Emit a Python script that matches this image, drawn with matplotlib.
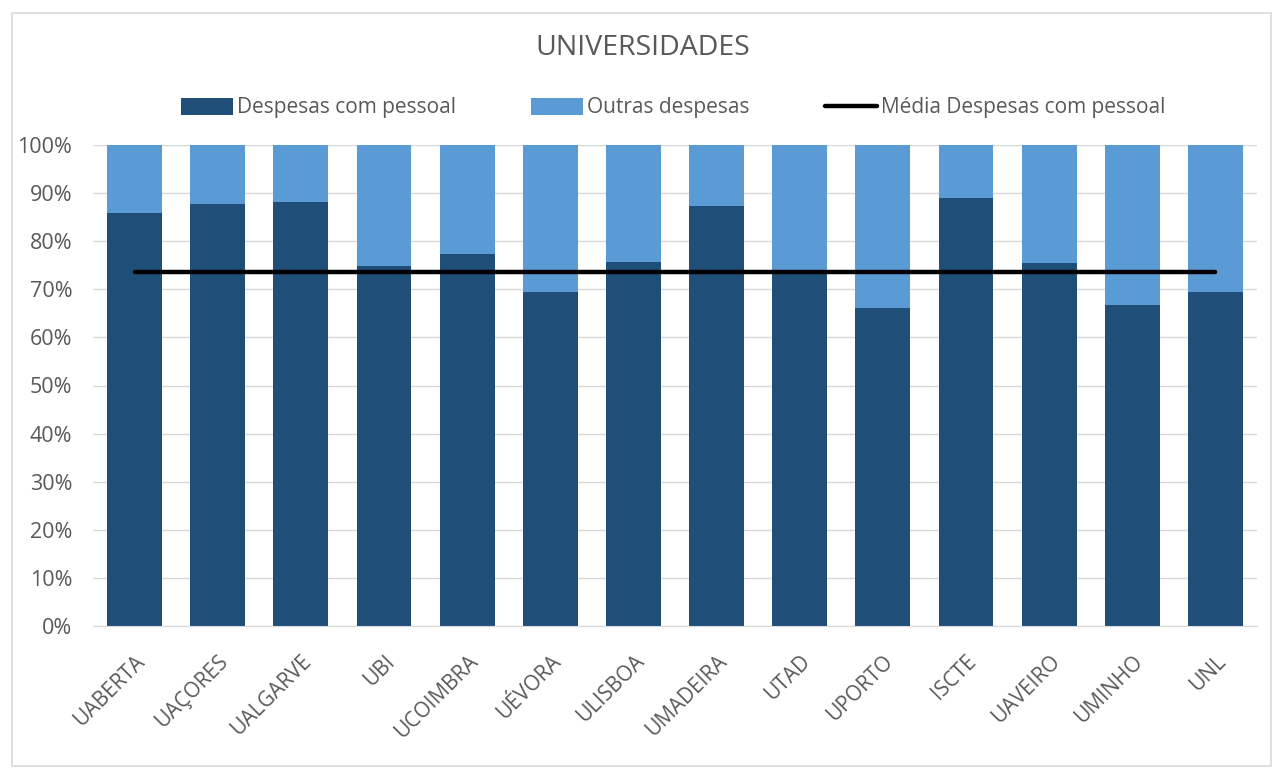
import matplotlib
matplotlib.use("Agg")
import matplotlib.pyplot as plt
from matplotlib.ticker import FuncFormatter, MultipleLocator
from matplotlib.patches import Rectangle
import numpy as np

categories = ["UABERTA", "UAÇORES", "UALGARVE", "UBI", "UCOIMBRA", "UÉVORA", "ULISBOA",
              "UMADEIRA", "UTAD", "UPORTO", "ISCTE", "UAVEIRO", "UMINHO", "UNL"]
despesas_pessoal = [85.9, 87.7, 88.2, 74.8, 77.3, 69.4, 75.7, 87.3, 74.0, 66.1, 88.9, 75.4, 66.7, 69.4]
outras_despesas = [100 - v for v in despesas_pessoal]
media_pessoal = [73.5] * len(categories)

plt.rcParams['font.family'] = ['Open Sans', 'DejaVu Sans']

DARK = "#1F4E79"
LIGHT = "#5B9BD5"
TXT = "#595959"

fig = plt.figure(figsize=(12.72, 7.68), dpi=100)
fig.patches.append(Rectangle((12/1272, 0.002), 1 - 12/1272 - 0.001, 1 - 15/768, transform=fig.transFigure,
                             fill=False, edgecolor="#D9D9D9", linewidth=1.2))
ax = fig.add_axes([93/1272, 1 - 626/768, (1257 - 93)/1272, (626 - 145)/768])

x = np.arange(len(categories))
h1 = ax.bar(x, despesas_pessoal, width=0.66, color=DARK, label="Despesas com pessoal", zorder=2)
h2 = ax.bar(x, outras_despesas, width=0.66, bottom=despesas_pessoal, color=LIGHT, label="Outras despesas", zorder=2)
h3, = ax.plot(x, media_pessoal, color="black", linewidth=3.2, solid_capstyle="round",
              label="Média Despesas com pessoal", zorder=3)

ax.set_xlim(-0.5, len(categories) - 0.5)
ax.set_ylim(0, 100)
ax.yaxis.set_major_locator(MultipleLocator(10))
ax.yaxis.set_major_formatter(FuncFormatter(lambda v, p: f"{v:.0f}%"))
ax.grid(axis="y", color="#D9D9D9", linewidth=1, zorder=0)
ax.set_axisbelow(True)
for s in ["top", "right", "left"]:
    ax.spines[s].set_visible(False)
ax.spines["bottom"].set_color("#D9D9D9")
ax.tick_params(axis="both", length=0, colors=TXT)
ax.tick_params(axis="y", pad=15, labelsize=15.5)
ax.set_xticks(x)
ax.set_xticklabels(categories, rotation=45, ha="right", rotation_mode="anchor")
ax.tick_params(axis="x", pad=18, labelsize=15)

fig.text(0.505, 1 - 48/768, "UNIVERSIDADES", ha="center", va="center", fontsize=20.5, color=TXT)
fig.legend(handles=[h1, h2, h3], loc="center", bbox_to_anchor=(0.529, 1 - 108/768), ncol=3, frameon=False,
           fontsize=15, labelcolor=TXT, handlelength=2.5, handleheight=0.9, columnspacing=3.6,
           handletextpad=0.2)

fig.savefig("out.png", dpi=100)
